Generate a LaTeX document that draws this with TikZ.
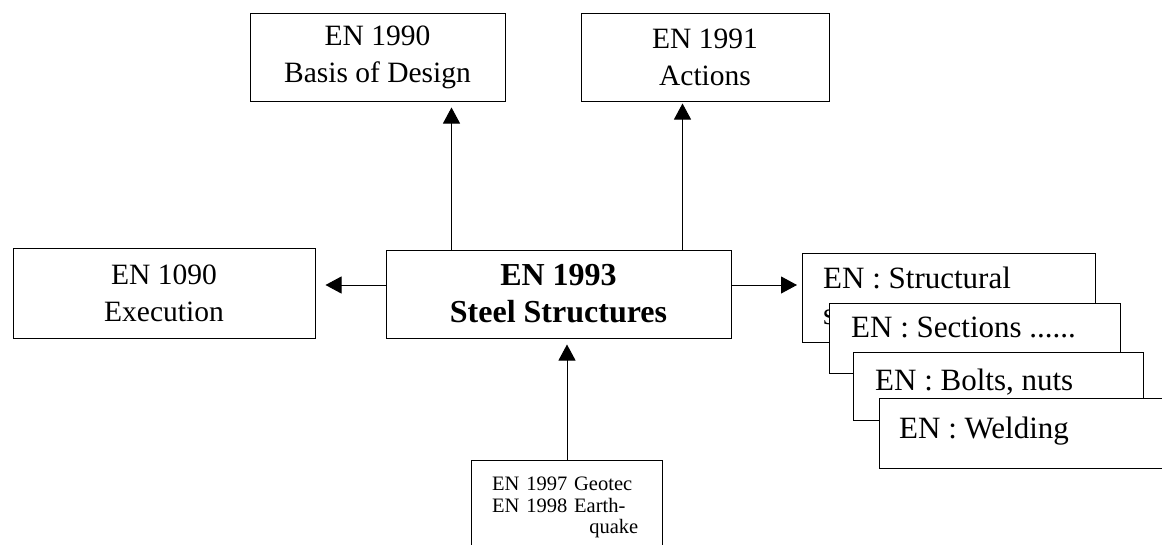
\documentclass[tikz,border=0pt]{standalone}
\usepackage{fontspec}
\setmainfont{Liberation Serif}
\usetikzlibrary{arrows.meta}

\tikzset{
  normbox/.style={draw, line width=1pt, fill=white, inner sep=0pt, align=center,
    font=\fontsize{29.5}{37}\selectfont},
  stackbox/.style={draw, line width=1pt, fill=white, inner sep=0pt, anchor=north west},
  stacktext/.style={anchor=base west, inner sep=0pt, font=\fontsize{31}{36}\selectfont},
  link/.style={-{Triangle[length=16pt,width=17pt]}, line width=1pt},
}

\begin{document}
\begin{tikzpicture}[x=1pt, y=-1pt]
  \useasboundingbox (0,0) rectangle (1162,544);
  \clip (0,0) rectangle (1162,544);

  % main boxes
  \node[normbox, minimum width=255pt, minimum height=88pt] (b1990) at (377.5,57) {EN 1990\\Basis of Design};
  \node[normbox, minimum width=248pt, minimum height=88pt] (b1991) at (705,57) {EN 1991\\Actions};
  \node[normbox, minimum width=302pt, minimum height=90pt] (b1090) at (164,293) {EN 1090\\Execution};
  \node[normbox, minimum width=345pt, minimum height=88pt, font=\fontsize{32}{37}\selectfont\bfseries]
       (b1993) at (558.5,294) {EN 1993\\Steel Structures};

  % stacked parts, back to front
  \node[stackbox, minimum width=293pt, minimum height=89pt] (s1) at (802,253) {};
  \node[stacktext] (t1) at ([shift={(21pt,-35pt)}]s1.north west) {EN : Structural};
  \node[stacktext] (t1s) at ([shift={(21pt,-71pt)}]s1.north west) {s};
  \node[stackbox, minimum width=291pt, minimum height=70pt] (s2) at (829,303) {};
  \node[stacktext] (t2) at ([shift={(22pt,-34pt)}]s2.north west) {EN : Sections ......};
  \node[stackbox, minimum width=290pt, minimum height=68pt] (s3) at (853,352) {};
  \node[stacktext] (t3) at ([shift={(22pt,-38pt)}]s3.north west) {EN : Bolts, nuts};
  \node[stackbox, minimum width=321pt, minimum height=70pt] (s4) at (879,398) {};
  \node[stacktext] (t4) at ([shift={(20pt,-40pt)}]s4.north west) {EN : Welding};

  % geotechnics box at the bottom
  \node[stackbox, minimum width=191pt, minimum height=140pt] (gb) at (471,460) {};
  \node[anchor=north west, inner sep=0pt, text width=146pt, align=left,
        font=\fontsize{20.5}{21.5}\selectfont] (gt) at (492,477)
       {EN 1997 Geotec\\EN 1998 Earth-\\\hspace*{\fill}quake};

  % connectors
  \coordinate (up1) at ([xshift=66pt]b1993.north west);
  \coordinate (up2) at ([xshift=-49pt]b1993.north east);
  \coordinate (lt) at ([yshift=9pt]b1993.west);
  \coordinate (rt) at ([yshift=9pt]b1993.east);
  \draw[link, shorten >=6pt] (up1) -- (up1 |- b1990.south);
  \draw[link, shorten >=2pt] (up2) -- (up2 |- b1991.south);
  \draw[link, shorten >=10pt] (lt) -- (lt -| b1090.east);
  \draw[link, shorten >=5pt] (rt) -- (rt -| s1.west);
  \draw[link, shorten >=6pt] (gb.north) -- (gb.north |- b1993.south);
\end{tikzpicture}
\end{document}
